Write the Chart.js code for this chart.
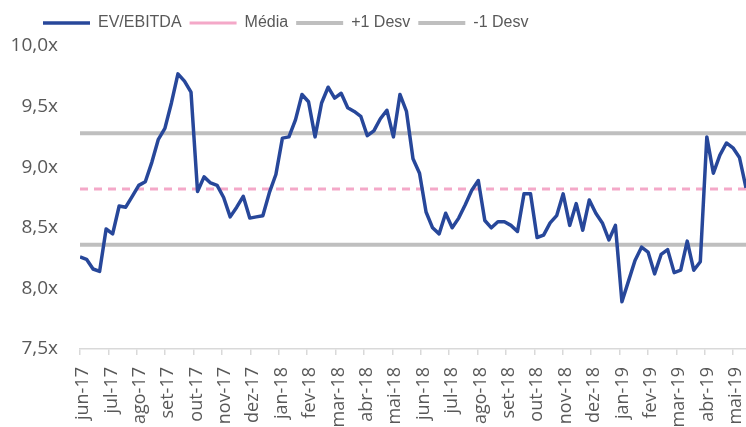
<!DOCTYPE html>
<html>
<head>
<meta charset="utf-8">
<script src="https://cdn.jsdelivr.net/npm/chart.js@4.4.1/dist/chart.umd.min.js"></script>
<style>
  html, body { margin: 0; padding: 0; background: #fff; }
  #wrap { width: 746px; height: 427px; position: relative; }
</style>
</head>
<body>
<div id="wrap"><canvas id="evChart"></canvas></div>
<script>
// EV/EBITDA semanal, jun-17 a mai-19
const evEbitda = [
  8.26, 8.24, 8.16, 8.14, 8.49, 8.45, 8.68, 8.67, 8.76, 8.85,
  8.88, 9.04, 9.23, 9.32, 9.53, 9.77, 9.71, 9.62, 8.80, 8.92,
  8.87, 8.85, 8.75, 8.59, 8.67, 8.76, 8.58, 8.59, 8.60, 8.79,
  8.94, 9.24, 9.25, 9.39, 9.60, 9.54, 9.25, 9.53, 9.66, 9.57,
  9.61, 9.49, 9.46, 9.42, 9.26, 9.30, 9.40, 9.47, 9.25, 9.60,
  9.46, 9.07, 8.95, 8.63, 8.50, 8.45, 8.62, 8.50, 8.58, 8.69,
  8.81, 8.89, 8.56, 8.50, 8.55, 8.55, 8.52, 8.47, 8.78, 8.78,
  8.42, 8.44, 8.54, 8.60, 8.78, 8.52, 8.70, 8.48, 8.73, 8.62,
  8.54, 8.40, 8.52, 7.89, 8.06, 8.23, 8.34, 8.30, 8.12, 8.28,
  8.32, 8.13, 8.15, 8.39, 8.15, 8.22, 9.25, 8.95, 9.10, 9.20,
  9.16, 9.08, 8.83
];
const monthLabels = [
  'jun-17', 'jul-17', 'ago-17', 'set-17', 'out-17', 'nov-17', 'dez-17',
  'jan-18', 'fev-18', 'mar-18', 'abr-18', 'mai-18', 'jun-18', 'jul-18',
  'ago-18', 'set-18', 'out-18', 'nov-18', 'dez-18', 'jan-19', 'fev-19',
  'mar-19', 'abr-19', 'mai-19'
];
const media = 8.82;
const desvSup = 9.28;
const desvInf = 8.36;

const weeksPerMonth = 30.44 / 7;
const xMax = (evEbitda.length - 1) / weeksPerMonth;
const evPoints = evEbitda.map((v, i) => ({ x: i / weeksPerMonth, y: v }));
const flat = v => [{ x: 0, y: v }, { x: xMax, y: v }];

const tickColor = '#595959';
const axisColor = '#d9d9d9';

// legend box: fixed height, drawn a bit to the right like the original
const legendTweak = {
  id: 'legendTweak',
  beforeInit(chart) {
    const legend = chart.legend;
    const fit = legend.fit;
    legend.fit = function() {
      fit.bind(legend)();
      this.height = 46;
    };
    const draw = legend.draw;
    legend.draw = function() {
      const c = chart.ctx;
      c.save();
      c.translate(35, 7);
      draw.bind(legend)();
      c.restore();
    };
  }
};

const ctx = document.getElementById('evChart').getContext('2d');
new Chart(ctx, {
  type: 'line',
  data: {
    datasets: [{
      label: 'EV/EBITDA',
      data: evPoints,
      borderColor: '#27479a',
      borderWidth: 3.5,
      pointRadius: 0,
      tension: 0,
      borderJoinStyle: 'round',
      order: 0
    }, {
      label: 'Média',
      data: flat(media),
      borderColor: '#f4a8c8',
      borderWidth: 3,
      borderDash: [8, 6],
      pointRadius: 0,
      order: 1
    }, {
      label: '+1 Desv',
      data: flat(desvSup),
      borderColor: '#bfbfbf',
      borderWidth: 4,
      pointRadius: 0,
      order: 2
    }, {
      label: '-1 Desv',
      data: flat(desvInf),
      borderColor: '#bfbfbf',
      borderWidth: 4,
      pointRadius: 0,
      order: 3
    }]
  },
  options: {
    responsive: true,
    maintainAspectRatio: false,
    animation: false,
    layout: {
      padding: 0
    },
    plugins: {
      legend: {
        display: true,
        position: 'top',
        align: 'start',
        labels: {
          usePointStyle: true,
          pointStyle: 'line',
          pointStyleWidth: 47,
          padding: 8,
          color: tickColor,
          font: { family: '"Liberation Sans", sans-serif', size: 16 }
        }
      },
      tooltip: { enabled: false }
    },
    scales: {
      x: {
        type: 'linear',
        min: 0,
        max: xMax,
        afterFit: function(scale) {
          scale.height = 78;
          scale.paddingLeft = 0;
          scale.paddingRight = 0;
        },
        afterBuildTicks: function(scale) {
          scale.ticks = monthLabels.map((m, i) => ({ value: i }));
        },
        grid: {
          display: true,
          drawOnChartArea: false,
          drawTicks: true,
          tickLength: 6,
          color: axisColor,
          lineWidth: 1.5
        },
        border: { display: true, color: axisColor, width: 1.5 },
        ticks: {
          autoSkip: false,
          maxRotation: 90,
          minRotation: 90,
          padding: 12,
          labelOffset: 3,
          color: tickColor,
          font: { family: '"Open Sans", sans-serif', size: 18 },
          callback: function(value) {
            return monthLabels[Math.round(value)];
          }
        }
      },
      y: {
        min: 7.5,
        max: 10,
        afterFit: function(scale) { scale.width = 80; },
        grid: { display: false, drawTicks: false },
        border: { display: false },
        ticks: {
          stepSize: 0.5,
          padding: 22,
          color: tickColor,
          font: { family: '"Open Sans", sans-serif', size: 19 },
          callback: function(value) {
            return value.toFixed(1).replace('.', ',') + 'x';
          }
        }
      }
    }
  },
  plugins: [legendTweak]
});
</script>
</body>
</html>
